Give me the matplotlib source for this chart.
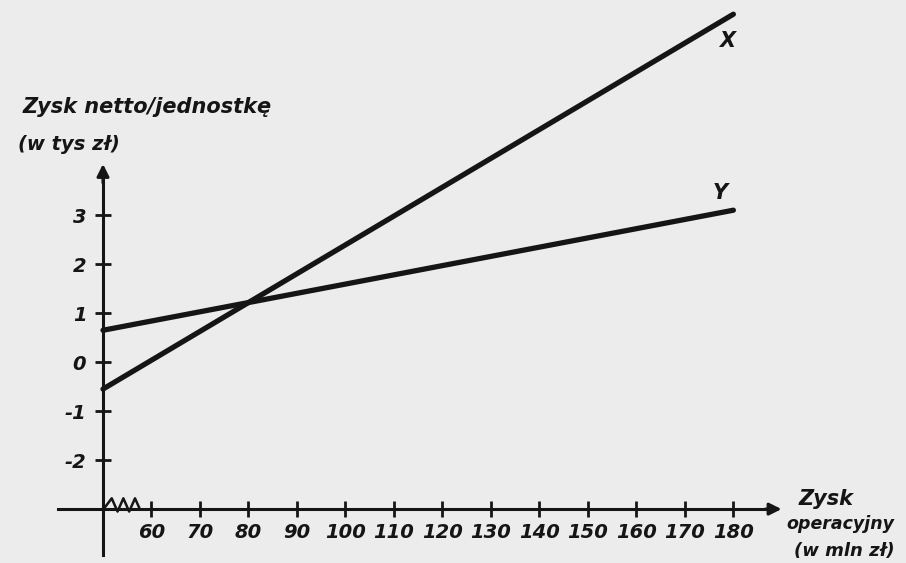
import numpy as np
import matplotlib.pyplot as plt

# data
ebit = [50, 180]            # zysk operacyjny (mln zl)
line_x = [-0.55, 7.1]       # wariant X
line_y = [0.65, 3.1]        # wariant Y
x_ticks = [60, 70, 80, 90, 100, 110, 120, 130, 140, 150, 160, 170, 180]
y_ticks = [-2, -1, 0, 1, 2, 3]

paper = '#ececec'
ink = '#151515'
hand = dict(fontweight='bold', fontstyle='italic', color=ink)

fig = plt.figure(figsize=(9.06, 5.63), dpi=100, facecolor=paper)
ax = fig.add_axes([0, 0, 1, 1], facecolor=paper)
ax.set_xlim(28.76, 215.6)
ax.set_ylim(-4.10, 7.39)

# axes crossing at (50, -3)
for s in ['top', 'right']:
    ax.spines[s].set_visible(False)
ax.spines['left'].set_position(('data', 50))
ax.spines['bottom'].set_position(('data', -3))
ax.spines['left'].set_bounds(-3.94, 3.9)
ax.spines['bottom'].set_bounds(40.7, 188)
for s in ['left', 'bottom']:
    ax.spines[s].set_linewidth(2.2)
    ax.spines[s].set_color(ink)

# arrow heads
ax.annotate('', xy=(50, 4.1), xytext=(50, 3.6),
            arrowprops=dict(arrowstyle='-|>', color=ink, lw=2.2, mutation_scale=18))
ax.annotate('', xy=(190.5, -3), xytext=(186, -3),
            arrowprops=dict(arrowstyle='-|>', color=ink, lw=2.2, mutation_scale=18))

ax.set_xticks(x_ticks)
ax.set_yticks(y_ticks)
ax.set_xticklabels([str(t) for t in x_ticks], fontsize=14, **hand)
ax.set_yticklabels([str(t) for t in y_ticks], fontsize=14, **hand)
ax.tick_params(direction='inout', length=12, width=2, color=ink)
ax.tick_params(axis='x', pad=4)
ax.tick_params(axis='y', pad=6)

# axis break zigzag near origin
zz_x = [50.5, 51.8, 53.0, 54.2, 55.4, 56.6, 57.6]
zz_y = [-2.95, -2.78, -3.05, -2.78, -3.05, -2.78, -3.0]
ax.plot(zz_x, zz_y, color=ink, lw=1.8)

# the two variants
ax.plot(ebit, line_x, color=ink, lw=3.8, solid_capstyle='round')
ax.plot(ebit, line_y, color=ink, lw=3.8, solid_capstyle='round')
ax.text(178.7, 6.55, 'X', fontsize=15, ha='center', va='center', **hand)
ax.text(177.2, 3.45, 'Y', fontsize=15, ha='center', va='center', **hand)

# axis titles
ax.text(33.5, 5.2, 'Zysk netto/jednostkę', fontsize=15, ha='left', va='center', **hand)
ax.text(32.5, 4.45, '(w tys zł)', fontsize=14, ha='left', va='center', **hand)
ax.text(193.5, -2.8, 'Zysk', fontsize=15, ha='left', va='center', **hand)
ax.text(191.0, -3.3, 'operacyjny', fontsize=12.5, ha='left', va='center', **hand)
ax.text(192.5, -3.85, '(w mln zł)', fontsize=13, ha='left', va='center', **hand)

fig.savefig('out.png', dpi=100, facecolor=paper)
